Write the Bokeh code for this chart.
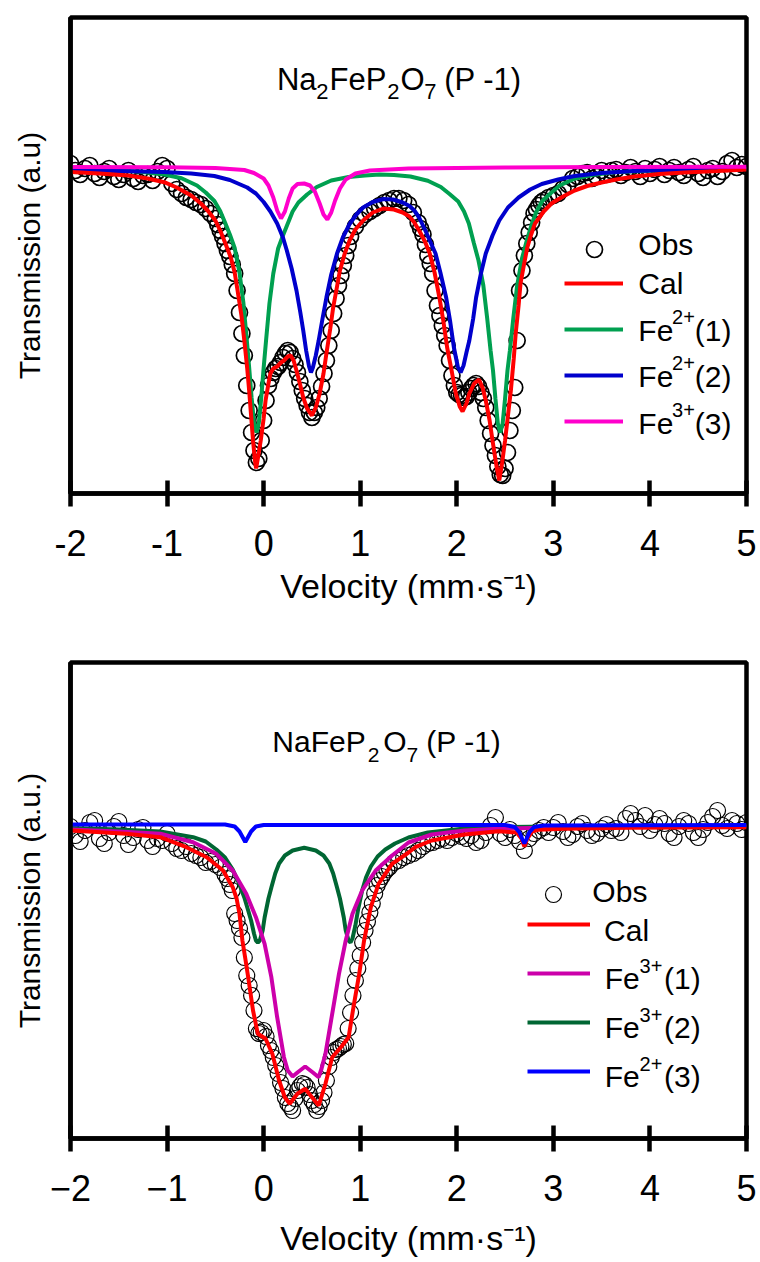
from bokeh.plotting import figure
from bokeh.models import Range1d, FixedTicker, Label, Legend, LegendItem
from bokeh.layouts import column
from bokeh.embed import file_html
from bokeh.resources import INLINE
from bokeh.core.properties import value

FONT = "Liberation Sans"

x_ticks = [-2, -1, 0, 1, 2, 3, 4, 5]
top_tick_labels = ["-2", "-1", "0", "1", "2", "3", "4", "5"]
bot_tick_labels = ["\u22122", "\u22121", "0", "1", "2", "3", "4", "5"]
x_title = "Velocity (mm\u00b7s\u207b\u00b9)"

# ---------------- Top panel: Na2FeP2O7 (normalised transmission, a.u.) ----------------
top_obs_v = [-2.0, -1.95, -1.9, -1.85, -1.8, -1.75, -1.7, -1.65, -1.6, -1.55, -1.5, -1.45, -1.4, -1.35, -1.3,
             -1.25, -1.2, -1.15, -1.1, -1.05, -1.0, -0.95, -0.9, -0.85, -0.8, -0.75, -0.7, -0.65, -0.6, -0.55, -0.5,
             -0.475, -0.45, -0.425, -0.4, -0.375, -0.35, -0.325, -0.3, -0.275, -0.25, -0.225, -0.2, -0.175, -0.15,
             -0.125, -0.1, -0.075, -0.05, -0.025, 0.0, 0.025, 0.05, 0.075, 0.1, 0.125, 0.15, 0.175, 0.2, 0.225, 0.25,
             0.275, 0.3, 0.325, 0.35, 0.375, 0.4, 0.425, 0.45, 0.475, 0.5, 0.525, 0.55, 0.575, 0.6, 0.625, 0.65,
             0.675, 0.7, 0.725, 0.75, 0.775, 0.8, 0.825, 0.85, 0.875, 0.9,
             0.95, 1.0, 1.05, 1.1, 1.15, 1.2, 1.25, 1.3, 1.35, 1.4, 1.45, 1.5, 1.55, 1.6,
             1.625, 1.65, 1.675, 1.7, 1.725, 1.75, 1.775, 1.8, 1.825, 1.85, 1.875, 1.9, 1.925, 1.95, 1.975, 2.0,
             2.025, 2.05, 2.075, 2.1, 2.125, 2.15, 2.175, 2.2, 2.225, 2.25, 2.275, 2.3, 2.325, 2.35, 2.375, 2.4,
             2.425, 2.45, 2.475, 2.5, 2.525, 2.55, 2.575, 2.6, 2.625, 2.65, 2.675, 2.7, 2.725, 2.75, 2.775, 2.8,
             2.825, 2.85, 2.875, 2.9,
             2.95, 3.0, 3.05, 3.1, 3.15, 3.2, 3.25, 3.3, 3.35, 3.4, 3.45, 3.5, 3.55, 3.6, 3.65, 3.7, 3.75, 3.8,
             3.85, 3.9, 3.95, 4.0, 4.05, 4.1, 4.15, 4.2, 4.25, 4.3, 4.35, 4.4, 4.45, 4.5, 4.55, 4.6, 4.65, 4.7,
             4.75, 4.8, 4.85, 4.9, 4.95, 5.0]
top_obs_t = [1003, 996, 992, 998, 1001, 993, 989, 995, 998, 990, 987, 992, 996, 988, 985,
             991, 992, 986, 995, 1001, 998, 983, 977, 973, 969, 967, 964, 962, 958, 953, 948,
             942, 936, 930, 923, 916, 910, 902, 893, 876, 854, 833, 811, 781, 756,
             734, 716, 704, 708, 726, 746, 766, 781, 788, 794, 798, 800, 804, 809, 813, 816,
             814, 808, 802, 794, 785, 776, 768, 761, 754, 749, 754, 759, 768, 780, 793, 806,
             821, 836, 853, 868, 881, 891, 901, 911, 921, 930,
             940, 947, 952, 955, 958, 961, 964, 966, 968, 968, 966, 962, 954, 944,
             938, 932, 922, 911, 903, 893, 876, 861, 851, 841, 831, 821, 806, 791, 781, 774,
             772, 771, 769, 770, 774, 778, 781, 783, 780, 774, 768, 759, 746, 733, 721, 711,
             700, 692, 691, 698, 714, 736, 756, 779, 826, 876, 896, 911, 923, 934, 944, 953,
             957, 961, 964, 966,
             969, 971, 973, 978, 982, 988, 990, 993, 994, 988, 990, 996, 992, 996, 997, 991, 994, 999,
             995, 990, 998, 993, 997, 1000, 992, 996, 999, 994, 991, 997, 1000, 993, 989, 996, 998, 990,
             995, 1003, 1006, 999, 1002, 1000]

top_cal_v = [-2.0, -1.7, -1.4, -1.2, -1.03, -0.9, -0.75, -0.65, -0.58, -0.5, -0.45, -0.4, -0.34, -0.3, -0.27,
             -0.23, -0.2, -0.17, -0.15, -0.13, -0.11, -0.09, -0.078, -0.06, -0.03, 0.0, 0.02, 0.05, 0.07, 0.1,
             0.14, 0.18, 0.21, 0.25, 0.28, 0.31, 0.34, 0.38, 0.41, 0.45, 0.5, 0.54, 0.58, 0.62, 0.65, 0.69, 0.72,
             0.76, 0.79, 0.84, 0.89, 0.95, 1.03, 1.13, 1.24, 1.35, 1.44, 1.51, 1.56, 1.61, 1.67, 1.72, 1.77, 1.82,
             1.86, 1.9, 1.95, 1.99, 2.03, 2.06, 2.1, 2.13, 2.18, 2.23, 2.27, 2.3, 2.34, 2.37, 2.41, 2.44, 2.47,
             2.5, 2.53, 2.56, 2.59, 2.61, 2.64, 2.66, 2.7, 2.73, 2.77, 2.81, 2.9, 2.98, 3.1, 3.22, 3.35, 3.5,
             3.65, 3.84, 4.1, 4.36, 4.7, 5.0]
top_cal_t = [994.5, 993, 991, 988, 984.3, 979, 971, 963, 956, 946, 936, 924, 909, 894, 876,
             851, 826, 798, 776, 751, 726, 706, 698, 708, 726, 748, 766, 783, 793, 798,
             800, 804, 806, 810, 811, 806, 796, 781, 769, 758, 751, 759, 773, 793, 813, 838, 859,
             880, 896, 913, 926, 937, 946, 954, 958, 957, 954, 950, 944, 936, 925, 913, 894, 869,
             846, 819, 794, 773, 760, 755, 763, 773, 783, 787, 778, 766, 746, 726, 701, 686, 704,
             726, 751, 776, 808, 833, 861, 883, 904, 919, 932, 943, 955, 963, 970, 976, 980.5, 984,
             987, 990, 992.5, 994, 995.5, 997]

top_fe1_v = [-2.0, -1.6, -1.3, -1.03, -0.85, -0.69, -0.6, -0.51, -0.45, -0.4, -0.35, -0.3, -0.25, -0.21,
             -0.175, -0.15, -0.125, -0.1, -0.075, -0.05, -0.025, 0.0, 0.025, 0.06, 0.1, 0.15, 0.2, 0.25, 0.3,
             0.36, 0.45, 0.55, 0.7, 0.88, 1.05, 1.2, 1.35, 1.52, 1.7, 1.835, 1.925, 2.015, 2.075, 2.125, 2.175,
             2.225, 2.275, 2.315, 2.35, 2.375, 2.4, 2.425, 2.45, 2.475, 2.5, 2.525, 2.55, 2.585, 2.625, 2.675,
             2.725, 2.775, 2.825, 2.885, 2.975, 3.065, 3.225, 3.405, 3.65, 4.05, 4.45, 5.0]
top_fe1_t = [997, 996.2, 995, 992, 988.2, 981, 974, 965.5, 955.5, 944, 932, 918.5, 894, 864,
             827, 799, 769, 744, 734, 743.5, 768.5, 798.5, 826, 863, 893, 918, 931, 943, 955,
             964, 972, 979.5, 986, 989.5, 991, 992, 991.5, 990, 985.7, 979.5, 972.5, 965, 955, 943, 924,
             906, 881, 848, 816, 796, 768, 743, 734, 743, 768, 796, 816, 848, 881, 908,
             926, 942, 955, 965.5, 973.5, 981, 988, 991.5, 994.5, 996, 997, 998]

top_fe2_v = [-2.0, -1.5, -1.03, -0.75, -0.51, -0.35, -0.17, -0.08, 0.0, 0.07, 0.14, 0.2, 0.24, 0.29, 0.34,
             0.38, 0.41, 0.44, 0.47, 0.49, 0.51, 0.54, 0.57, 0.61, 0.65, 0.7, 0.76, 0.82, 0.89, 0.96, 1.03, 1.13,
             1.24, 1.34, 1.44, 1.51, 1.56, 1.61, 1.67, 1.72, 1.78, 1.83, 1.89, 1.93, 1.97, 2.01, 2.04, 2.07, 2.1,
             2.13, 2.17, 2.2, 2.25, 2.3, 2.37, 2.44, 2.53, 2.64, 2.76, 2.88, 3.05, 3.22, 3.5, 3.84, 4.3, 5.0]
top_fe2_t = [996.5, 995.5, 994.5, 993, 990.5, 986.5, 979, 973, 964.5, 955, 943, 929, 916, 898, 876,
             854, 836, 816, 800, 794, 799, 811, 826, 848, 869, 892, 913, 929, 942.5, 952, 959, 964.5,
             967.5, 967, 964, 960.5, 956, 949, 937, 926, 913, 894, 869, 846, 819, 800, 794, 801, 814,
             826, 848, 869, 893, 913, 931, 946, 959, 969, 977, 982.5, 987, 990.5, 993.5, 995.5, 996.7, 997.7]

top_fe3_v = [-2.0, -1.0, -0.5, -0.2, -0.1, 0.0, 0.05, 0.1, 0.14, 0.18, 0.22, 0.26, 0.3, 0.35, 0.42,
             0.48, 0.53, 0.58, 0.62, 0.66, 0.7, 0.74, 0.79, 0.85, 0.95, 1.1, 1.5, 2.5, 3.5, 5.0]
top_fe3_t = [999.5, 999.2, 998.5, 996.5, 993.5, 988, 981, 969, 956, 948, 955, 968, 978, 982.5, 983,
             981, 975, 963, 952, 947, 954, 966, 978, 987, 993, 996, 998, 999, 999.5, 999.7]

# ---------------- Bottom panel: NaFeP2O7 ----------------
bot_obs_v = [-2.0, -1.95, -1.9, -1.85, -1.8, -1.75, -1.7, -1.65, -1.6, -1.55, -1.5, -1.45, -1.4, -1.35, -1.3,
             -1.25, -1.2, -1.15, -1.1, -1.05, -1.0, -0.95, -0.9, -0.85, -0.8, -0.75, -0.7, -0.65, -0.6, -0.55,
             -0.5, -0.45,
             -0.4, -0.375, -0.35, -0.325, -0.3, -0.275, -0.25, -0.225, -0.2, -0.175, -0.15, -0.125, -0.1, -0.075,
             -0.05, -0.025, 0.0, 0.025, 0.05, 0.075, 0.1, 0.125, 0.15, 0.175, 0.2, 0.225, 0.25, 0.275, 0.3, 0.325,
             0.35, 0.375, 0.4, 0.425, 0.45, 0.475, 0.5, 0.525, 0.55, 0.575, 0.6, 0.625, 0.65, 0.675, 0.7, 0.725,
             0.75, 0.775, 0.8, 0.825, 0.85, 0.875, 0.9, 0.925, 0.95, 0.975, 1.0, 1.025, 1.05, 1.075, 1.1, 1.125,
             1.15, 1.175, 1.2, 1.225, 1.25, 1.275, 1.3,
             1.35, 1.4, 1.45, 1.5, 1.55, 1.6, 1.65, 1.7, 1.75, 1.8, 1.85, 1.9, 1.95, 2.0, 2.05, 2.1, 2.15, 2.2,
             2.25, 2.3, 2.35, 2.4, 2.45, 2.5, 2.55, 2.6, 2.65, 2.7, 2.75, 2.8, 2.85, 2.9, 2.95, 3.0, 3.05, 3.1,
             3.15, 3.2, 3.25, 3.3, 3.35, 3.4, 3.45, 3.5, 3.55, 3.6, 3.65, 3.7, 3.75, 3.8, 3.85, 3.9, 3.95, 4.0,
             4.05, 4.1, 4.15, 4.2, 4.25, 4.3, 4.35, 4.4, 4.45, 4.5, 4.55, 4.6, 4.65, 4.7, 4.75, 4.8, 4.85, 4.9,
             4.95, 5.0]
bot_obs_t = [999, 990, 984, 995, 1003, 1005, 987, 982, 993, 999, 1004, 990, 981, 988, 996,
             998, 985, 979, 987, 985, 992, 982, 977, 975, 979, 972, 970, 968, 963, 964,
             961, 958,
             951, 947, 941, 935, 912, 905, 897, 888, 868, 850, 840, 830, 815, 797,
             792, 793, 795, 789, 780, 775, 768, 760, 752, 743, 737, 728, 722, 719, 715, 727,
             735, 739, 742, 741, 738, 731, 725, 721, 715, 719, 725, 733, 745, 759, 768, 773,
             776, 777, 779, 781, 782, 797, 813, 830, 845, 857, 870, 883, 895, 904, 913, 922,
             932, 940, 945, 949, 953, 956, 958,
             963, 965, 968, 970, 972, 975, 979, 982, 983, 985, 987, 985, 988, 992, 989, 987, 990, 983,
             985, 993, 1000, 1008, 992, 988, 996, 990, 984, 975, 987, 992, 995, 998, 993, 998, 1003, 994,
             988, 991, 999, 1002, 995, 990, 992, 997, 1001, 995, 997, 993, 1007, 1012, 1005, 999, 1010, 995,
             1001, 1007, 1002, 992, 988, 999, 1005, 1002, 993, 988, 996, 1003, 1009, 1015, 1000, 997, 1005, 1002,
             996, 1003]

bot_cal_v = [-2.0, -1.42, -1.07, -0.8, -0.59, -0.42, -0.32, -0.28, -0.25, -0.22, -0.19, -0.16, -0.11, -0.06,
             0.02, 0.09, 0.16, 0.22, 0.27, 0.35, 0.43, 0.5, 0.57, 0.64, 0.71, 0.8, 0.88, 0.93, 0.99, 1.04, 1.11,
             1.19, 1.33, 1.5, 1.57, 1.74, 2.08, 2.43, 2.62, 2.67, 2.7, 2.73, 2.78, 2.84, 3.11, 3.8, 5.0]
bot_cal_t = [995, 991.7, 988.3, 978.3, 968.3, 955, 938.3, 927, 911.7, 885, 867, 848.3, 815, 791.7,
             786.7, 771.7, 745, 728, 721.7, 731.7, 736.7, 728.3, 720, 741.7, 768.3, 778.3, 788.3, 818.3, 851.7,
             885, 918.3, 941.7, 961.7, 973, 978.3, 985, 991, 994.3, 993, 987, 979, 987, 994, 995.7, 996.7,
             997.7, 998.3]

bot_fe1_v = [-2.0, -1.5, -1.07, -0.73, -0.49, -0.32, -0.18, -0.08, 0.01, 0.08, 0.14, 0.21, 0.25, 0.3, 0.35,
             0.43, 0.51, 0.57, 0.6, 0.64, 0.71, 0.78, 0.85, 0.92, 1.02, 1.16, 1.33, 1.5, 1.74, 2.08, 2.43, 3.11,
             5.0]
bot_fe1_t = [996, 994, 991.7, 983.3, 971.7, 955, 931.7, 908.3, 881.7, 848.3, 808.3, 768.3, 755, 749, 753,
             759, 753, 748.3, 757, 771.7, 811.7, 851.7, 885, 911.7, 935, 955, 970, 983, 991, 995, 996.7, 998.3,
             999]

bot_fe2_v = [-2.0, -1.5, -1.07, -0.73, -0.6, -0.49, -0.4, -0.32, -0.25, -0.2, -0.16, -0.13, -0.1, -0.08,
             -0.06, -0.04, -0.01, 0.01, 0.05, 0.08, 0.12, 0.16, 0.22, 0.3, 0.42, 0.54, 0.62, 0.68, 0.72, 0.76,
             0.79, 0.83, 0.85, 0.88, 0.9, 0.92, 0.95, 0.98, 1.02, 1.06, 1.11, 1.18, 1.26, 1.36, 1.5, 1.7, 2.08,
             2.43, 3.0, 5.0]
bot_fe2_t = [997.5, 996, 994, 988.3, 984, 976, 968, 956, 941, 928, 915, 905, 892, 885,
             883, 885, 895, 908, 927, 938, 952, 962, 970, 975, 977.7, 975, 970, 962, 952, 938,
             927, 908, 895, 885, 883, 887, 900, 917, 935, 948, 959, 969, 976, 982, 988, 993, 997,
             998.5, 999, 999.5]

bot_fe3_v = [-2.0, -0.4, -0.3, -0.25, -0.21, -0.19, -0.17, -0.13, -0.08, 0.0, 2.5, 2.6, 2.65, 2.68, 2.7,
             2.72, 2.75, 2.8, 2.9, 5.0]
bot_fe3_t = [1001, 1001, 999, 994, 987, 983.5, 987, 994, 999, 1000.5, 1000.5, 998.5, 993, 986, 982,
             986, 993, 998.5, 1000, 1000.5]

for a, b in [(top_obs_v, top_obs_t), (top_cal_v, top_cal_t), (top_fe1_v, top_fe1_t), (top_fe2_v, top_fe2_t),
             (top_fe3_v, top_fe3_t), (bot_obs_v, bot_obs_t), (bot_cal_v, bot_cal_t), (bot_fe1_v, bot_fe1_t),
             (bot_fe2_v, bot_fe2_t), (bot_fe3_v, bot_fe3_t)]:
    assert len(a) == len(b), (len(a), len(b))


def make_fig(height, yr, borders, tick_labels, ylabel, title_standoff):
    left, right, top, bottom = borders
    p = figure(width=760, height=height, x_range=Range1d(-2, 5), y_range=Range1d(*yr),
               output_backend="svg", toolbar_location=None,
               min_border_left=left, min_border_right=right, min_border_top=top, min_border_bottom=bottom)
    p.grid.visible = False
    p.background_fill_color = "white"
    p.border_fill_color = "white"
    p.outline_line_color = "black"
    p.outline_line_width = 4.5
    p.outline_line_alpha = 1.0

    xa = p.xaxis[0]
    xa.ticker = FixedTicker(ticks=x_ticks)
    xa.major_label_overrides = {t: s for t, s in zip(x_ticks, tick_labels)}
    xa.axis_line_width = 4.5
    xa.axis_line_color = "black"
    xa.major_tick_line_width = 4.5
    xa.major_tick_line_color = "black"
    xa.major_tick_in = 13
    xa.major_tick_out = 13
    xa.minor_tick_line_color = None
    xa.major_label_text_font = FONT
    xa.major_label_text_font_size = "36px"
    xa.major_label_text_color = "black"
    xa.major_label_standoff = 23
    xa.axis_label = x_title
    xa.axis_label_text_font = FONT
    xa.axis_label_text_font_size = "34px"
    xa.axis_label_text_font_style = "normal"
    xa.axis_label_text_color = "black"
    xa.axis_label_standoff = title_standoff

    ya = p.yaxis[0]
    ya.ticker = FixedTicker(ticks=[])
    ya.axis_line_width = 4.5
    ya.axis_line_color = "black"
    ya.major_tick_out = 0
    ya.major_tick_in = 0
    ya.minor_tick_line_color = None
    ya.major_label_standoff = 0
    ya.axis_label = ylabel
    ya.axis_label_text_font = FONT
    ya.axis_label_text_font_size = "30px"
    ya.axis_label_text_font_style = "normal"
    ya.axis_label_text_color = "black"
    ya.axis_label_standoff = 25
    return p


def txt(p, x, y, text, size):
    # y is the wanted baseline; Bokeh's label anchor sits about 0.4 em above it
    p.add_layout(Label(x=x, y=y + 0.4 * size, text=text, text_font=FONT, text_font_size=f"{size}px",
                       text_color="black", text_baseline="alphabetic", text_align="left"))


def glyph_legend(p, renderers, loc, gw, gh, spacing):
    leg = Legend(items=[LegendItem(label=value(""), renderers=[r]) for r in renderers],
                 location=loc, orientation="vertical", glyph_width=gw, glyph_height=gh,
                 spacing=spacing, padding=0, margin=0, label_standoff=0, label_width=0, label_height=0,
                 label_text_font_size="1px", border_line_color=None, background_fill_alpha=0)
    p.add_layout(leg)


# ---------------- Top figure ----------------
p1 = make_fig(630, (673, 1149), (65, 14, 17, 137), top_tick_labels, "Transmission (a.u)", 8)
r_obs1 = p1.scatter(top_obs_v, top_obs_t, marker="circle", size=16, fill_color=None,
                    line_color="black", line_width=1.7)
r_fe1 = p1.line(top_fe1_v, top_fe1_t, line_color="#00A050", line_width=4)
r_fe2 = p1.line(top_fe2_v, top_fe2_t, line_color="#0000CC", line_width=4)
r_cal1 = p1.line(top_cal_v, top_cal_t, line_color="#FF0000", line_width=4)
r_fe3 = p1.line(top_fe3_v, top_fe3_t, line_color="#FF00CC", line_width=4)

glyph_legend(p1, [r_obs1], (504, 224), 40, 40, 0)
glyph_legend(p1, [r_cal1, r_fe1, r_fe2, r_fe3], (494, 62), 59, 20, 26)

# title Na2FeP2O7 (P -1)
txt(p1, 0.138, 1074.3, "Na", 31)
txt(p1, 0.544, 1066.5, "2", 22)
txt(p1, 0.683, 1074.3, "FeP", 31)
txt(p1, 1.279, 1066.5, "2", 22)
txt(p1, 1.418, 1074.3, "O", 31)
txt(p1, 1.664, 1066.5, "7", 22)
txt(p1, 1.870, 1074.3, "(P -1)", 31)

# legend texts
txt(p1, 3.880, 910, "Obs", 30)
txt(p1, 3.880, 871, "Cal", 30)
for yb, sup, num in [(824, "2+", "(1)"), (778, "2+", "(2)"), (731, "3+", "(3)")]:
    txt(p1, 3.880, yb, "Fe", 30)
    txt(p1, 4.229, yb + 18, sup, 20)
    txt(p1, 4.465, yb, num, 30)

# ---------------- Bottom figure ----------------
p2 = make_fig(632, (687, 1163), (70, 10, 32, 124), bot_tick_labels, "Transmission (a.u.)", 15)
r_obs2 = p2.scatter(bot_obs_v, bot_obs_t, marker="circle", size=16, fill_color=None,
                    line_color="black", line_width=1.2)
r_b2 = p2.line(bot_fe2_v, bot_fe2_t, line_color="#006633", line_width=4)
r_b1 = p2.line(bot_fe1_v, bot_fe1_t, line_color="#CC00AA", line_width=4)
r_bcal = p2.line(bot_cal_v, bot_cal_t, line_color="#FF0000", line_width=4)
r_b3 = p2.line(bot_fe3_v, bot_fe3_t, line_color="#0000FF", line_width=4)

glyph_legend(p2, [r_obs2], (462.7, 224), 40, 40, 0)
glyph_legend(p2, [r_bcal, r_b1, r_b2, r_b3], (456.7, 57), 63, 20, 29)

# title NaFeP2O7 (P -1)
txt(p2, 0.090, 1071.7, "NaFeP", 30)
txt(p2, 1.078, 1062, "2", 21)
txt(p2, 1.238, 1071.7, "O", 30)
txt(p2, 1.479, 1062, "7", 21)
txt(p2, 1.685, 1071.7, "(P -1)", 30)

txt(p2, 3.404, 921.7, "Obs", 30)
txt(p2, 3.525, 883.3, "Cal", 30)
for yb, sup, num in [(835, "3+", "(1)"), (786, "3+", "(2)"), (737, "2+", "(3)")]:
    txt(p2, 3.531, yb, "Fe", 30)
    txt(p2, 3.893, yb + 17, sup, 20)
    txt(p2, 4.146, yb, num, 30)

layout = column(p1, p2)
open("out.html", "w").write(file_html(layout, INLINE, title="Mossbauer spectra"))
